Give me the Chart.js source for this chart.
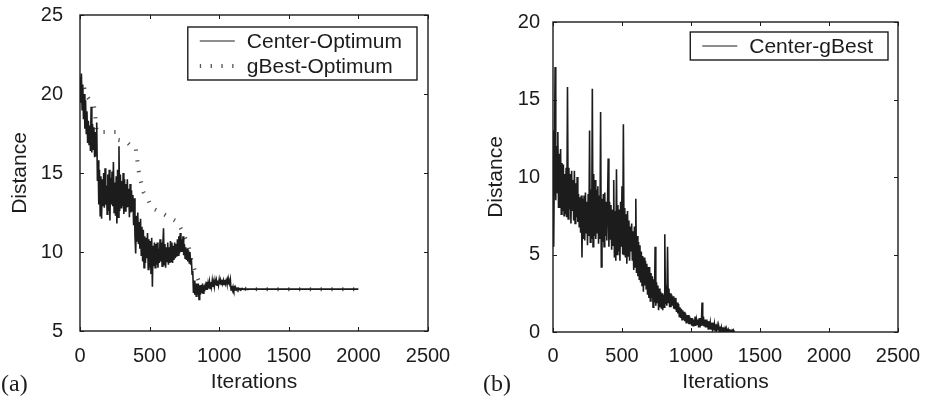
<!DOCTYPE html>
<html>
<head>
<meta charset="utf-8">
<script src="https://cdn.jsdelivr.net/npm/chart.js@4/dist/chart.umd.min.js"></script>
<style>
  html, body { margin: 0; padding: 0; background: #fff; }
  #wrap { position: relative; width: 927px; height: 397px; overflow: hidden; }
  #chart-a { position: absolute; left: 0; top: 0; }
  #chart-b { position: absolute; left: 460px; top: 0; }
</style>
</head>
<body>
<div id="wrap">
  <canvas id="chart-a" width="460" height="397"></canvas>
  <canvas id="chart-b" width="467" height="397"></canvas>
</div>
<script>
// sampled every ITER_STEP iterations
const ITER_STEP = 5;
const X_TICKS = [0, 500, 1000, 1500, 2000, 2500];

// panel (a): one row = 50 iterations
const centerOptimum = [
  19.5, 20.8, 21.3, 19.0, 20.6, 18.4, 20.0, 17.8, 19.6, 17.5,
  18.9, 16.9, 18.3, 16.8, 18.0, 16.4, 19.2, 16.3, 18.1, 16.5,
  17.9, 16.0, 17.6, 16.1, 18.2, 14.5, 15.8, 13.0, 15.2, 12.3,
  14.8, 12.1, 14.6, 12.9, 15.0, 12.8, 15.3, 13.0, 14.2, 12.4,
  14.9, 12.6, 15.2, 12.0, 14.7, 13.0, 15.1, 12.9, 15.7, 12.5,
  14.4, 12.3, 14.8, 11.8, 15.2, 12.2, 16.7, 12.6, 14.9, 12.8,
  14.5, 12.9, 15.0, 12.4, 14.6, 12.6, 14.3, 12.8, 14.6, 12.9,
  14.0, 12.2, 14.3, 12.5, 13.9, 12.6, 13.6, 11.7, 13.4, 11.0,
  9.9, 12.3, 10.7, 12.5, 10.5, 11.9, 10.2, 12.1, 9.8, 11.6,
  9.4, 11.4, 9.0, 11.0, 9.3, 10.9, 9.6, 11.2, 8.9, 10.8,
  9.0, 10.7, 8.6, 10.9, 7.8, 10.4, 9.1, 10.6, 9.0, 10.5,
  9.2, 10.6, 9.0, 10.2, 9.3, 10.8, 9.4, 10.6, 9.1, 10.4,
  11.5, 9.2, 10.5, 9.0, 10.3, 9.4, 10.6, 9.2, 10.3, 9.3,
  10.7, 9.4, 10.6, 9.3, 10.4, 9.5, 10.6, 9.6, 10.5, 9.7,
  10.8, 9.8, 11.0, 9.9, 11.2, 10.0, 10.8, 10.0, 11.0, 9.8,
  10.5, 9.6, 10.3, 9.5, 10.2, 9.4, 10.1, 9.3, 10.0, 9.2,
  9.6, 8.6, 8.8, 7.4, 8.2, 7.3, 8.0, 7.2, 8.0, 7.3,
  8.0, 7.0, 7.9, 7.3, 7.9, 7.4, 8.0, 7.4, 7.9, 7.5,
  8.0, 7.6, 8.1, 7.6, 8.0, 7.7, 8.1, 7.7, 8.1, 7.8,
  8.2, 7.8, 8.1, 7.8, 8.2, 7.9, 8.2, 7.9, 8.2, 7.9,
  8.25, 7.95, 8.2, 7.95, 8.25, 8.0, 8.2, 7.95, 8.25, 8.0,
  8.2, 8.0, 8.25, 8.0, 8.2, 8.0, 8.25, 7.6, 7.85, 7.6,
  7.8, 7.6, 7.75, 7.6, 7.72, 7.62, 7.7, 7.62, 7.7, 7.63,
  7.68, 7.63, 7.68, 7.64, 7.67, 7.64, 7.67, 7.64, 7.66, 7.65,
  7.66, 7.65, 7.66, 7.65, 7.65, 7.65, 7.65, 7.65, 7.65, 7.65
];
const centerOptimumTailIter = [2000];
const centerOptimumTailVal = [7.65];

const gBestIter = [0, 20, 40, 70, 100, 110, 120, 260, 270, 330, 380, 400, 410, 425, 455, 490, 515, 580, 640, 700, 730, 780, 800, 830, 860, 1090, 1100, 1250, 2000];
const gBestVal = [21.0, 20.8, 20.0, 19.6, 19.3, 18.6, 17.6, 17.6, 17.1, 17.0, 16.6, 16.6, 15.9, 14.9, 13.8, 13.3, 12.8, 12.5, 12.2, 11.9, 11.4, 10.4, 9.5, 8.7, 8.0, 8.0, 7.7, 7.65, 7.65];

// panel (b): one row = 50 iterations
const centerGBest = [
  13.0, 5.5, 11.0, 17.1, 8.5, 12.0, 9.0, 12.9, 8.0, 11.5,
  8.0, 11.8, 7.6, 10.9, 7.8, 10.8, 7.5, 10.2, 7.6, 10.6,
  7.4, 15.8, 7.3, 10.6, 7.9, 10.2, 7.0, 10.4, 7.8, 9.8,
  7.2, 10.4, 7.0, 9.6, 7.4, 10.0, 7.1, 8.9, 6.8, 8.7,
  6.4, 8.8, 4.8, 8.6, 6.0, 8.8, 5.9, 9.0, 6.4, 8.4,
  5.6, 8.9, 6.2, 13.0, 5.8, 9.2, 6.0, 15.7, 5.5, 10.2,
  6.2, 9.8, 6.0, 9.2, 6.4, 9.4, 5.7, 8.8, 6.0, 14.2,
  4.2, 8.6, 5.8, 8.9, 5.5, 9.0, 6.2, 8.4, 5.9, 8.2,
  11.2, 5.5, 8.4, 6.0, 8.2, 5.3, 7.9, 5.6, 9.8, 4.8,
  7.8, 4.6, 10.5, 5.0, 8.2, 5.2, 7.9, 4.6, 8.4, 5.5,
  9.4, 5.0, 13.4, 5.0, 8.0, 4.8, 7.6, 4.4, 7.8, 4.9,
  7.2, 4.6, 6.8, 5.2, 7.0, 4.6, 6.5, 4.0, 6.8, 4.2,
  8.6, 3.8, 6.2, 3.6, 5.8, 3.4, 5.6, 3.2, 5.2, 3.0,
  4.9, 2.6, 4.8, 3.0, 4.6, 2.8, 4.4, 2.4, 4.2, 2.2,
  4.2, 2.0, 3.8, 2.2, 3.6, 1.6, 3.4, 1.9, 5.5, 1.7,
  3.2, 1.9, 3.0, 1.4, 2.8, 1.6, 2.6, 1.5, 2.5, 1.4,
  2.4, 1.6, 6.3, 1.8, 3.0, 1.7, 5.5, 1.9, 2.8, 1.6,
  2.5, 1.6, 2.4, 1.7, 2.3, 1.5, 2.2, 1.5, 2.2, 1.3,
  1.9, 1.2, 1.8, 1.0, 1.6, 0.9, 1.5, 0.8, 1.4, 0.8,
  1.3, 0.7, 1.2, 0.6, 1.1, 0.6, 1.1, 0.5, 1.0, 0.5,
  0.9, 0.4, 0.9, 0.4, 0.8, 0.4, 1.0, 0.4, 0.8, 0.5,
  0.8, 0.3, 0.9, 0.3, 0.8, 0.4, 1.9, 0.4, 1.0, 0.4,
  0.8, 0.3, 0.8, 0.3, 0.7, 0.2, 0.7, 0.2, 0.6, 0.2,
  0.6, 0.2, 0.6, 0.1, 0.5, 0.1, 0.5, 0.1, 0.4, 0.1,
  0.4, 0.05, 0.35, 0.05, 0.3, 0.0, 0.3, 0.0, 0.2, 0.0,
  0.2, 0.0, 0.15, 0.0, 0.15, 0.0, 0.1, 0.0, 0.1, 0.0,
  0.1, 0.0, 0.08, 0.0, 0.0
];

const INK = '#1c1c1c';
const SANS = '"Liberation Sans", Arial, Helvetica, sans-serif';

function toPoints(values) {
  return values.map((v, i) => ({ x: i * ITER_STEP, y: v }));
}

function pairPoints(iters, values) {
  return iters.map((it, i) => ({ x: it, y: values[i] }));
}

// box, inward ticks on all four sides, boxed legend, panel tag
const matlabFrame = {
  id: 'matlabFrame',
  afterDatasetsDraw(chart, args, opts) {
    const { ctx, chartArea: a, scales: { x, y } } = chart;
    ctx.save();
    ctx.strokeStyle = INK;
    ctx.lineWidth = 1;
    ctx.beginPath();
    x.ticks.forEach((t) => {
      const px = Math.round(x.getPixelForValue(t.value)) + 0.5;
      ctx.moveTo(px, a.bottom); ctx.lineTo(px, a.bottom - 4);
      ctx.moveTo(px, a.top); ctx.lineTo(px, a.top + 4);
    });
    y.ticks.forEach((t) => {
      const py = Math.round(y.getPixelForValue(t.value)) + 0.5;
      ctx.moveTo(a.left, py); ctx.lineTo(a.left + 4, py);
      ctx.moveTo(a.right, py); ctx.lineTo(a.right - 4, py);
    });
    ctx.stroke();
    ctx.lineWidth = 1.4;
    ctx.strokeRect(a.left, a.top, a.right - a.left, a.bottom - a.top);

    // legend
    const sets = chart.data.datasets;
    ctx.font = '21px ' + SANS;
    const textW = Math.max(...sets.map((d) => ctx.measureText(d.label).width));
    const boxW = textW + 74;
    const boxH = 28 + (sets.length - 1) * 25;
    const bx = a.right - opts.legendRight - boxW;
    const by = a.top + opts.legendTop;
    ctx.fillStyle = '#fff';
    ctx.fillRect(bx, by, boxW, boxH);
    ctx.lineWidth = 1.4;
    ctx.strokeRect(bx, by, boxW, boxH);
    sets.forEach((d, i) => {
      const ry = by + 14 + i * 25;
      ctx.save();
      ctx.strokeStyle = d.borderColor;
      ctx.lineWidth = d.legendWidth || d.borderWidth;
      ctx.setLineDash(d.borderDash || []);
      ctx.beginPath();
      ctx.moveTo(bx + 12, ry); ctx.lineTo(bx + 47, ry);
      ctx.stroke();
      ctx.restore();
      ctx.fillStyle = INK;
      ctx.textBaseline = 'middle';
      ctx.textAlign = 'left';
      ctx.fillText(d.label, bx + 59, ry + 1);
    });

    // panel tag
    ctx.font = '24px "Liberation Serif", "Times New Roman", serif';
    ctx.fillStyle = INK;
    ctx.textBaseline = 'middle';
    ctx.textAlign = 'left';
    ctx.fillText(opts.tag, opts.tagX, 385);
    ctx.restore();
  }
};

function buildOptions(cfg) {
  const tickFont = { family: SANS, size: 20 };
  const titleFont = { family: SANS, size: 21 };
  return {
    responsive: false,
    animation: false,
    layout: { padding: { left: 0, top: cfg.top, right: cfg.right, bottom: 0 } },
    plugins: {
      legend: { display: false },
      tooltip: { enabled: false },
      matlabFrame: { tag: cfg.tag, tagX: cfg.tagX, legendRight: cfg.legendRight, legendTop: cfg.legendTop },
    },
    elements: { point: { radius: 0 }, line: { tension: 0 } },
    scales: {
      x: {
        type: 'linear',
        min: 0,
        max: 2500,
        afterBuildTicks: (s) => { s.ticks = X_TICKS.map((v) => ({ value: v })); },
        ticks: { padding: cfg.xPad, autoSkip: false, maxRotation: 0, color: INK, font: tickFont, callback: (v) => String(v) },
        grid: { display: false, drawTicks: false },
        border: { display: false },
        title: { display: true, text: 'Iterations', color: INK, font: titleFont, padding: { top: 0, bottom: 2 } },
        afterFit: (s) => { s.height = cfg.xHeight; s.paddingLeft = 0; s.paddingRight = 0; },
      },
      y: {
        min: cfg.yMin,
        max: cfg.yMax,
        ticks: { stepSize: 5, padding: cfg.yPad, color: INK, font: tickFont, callback: (v) => String(v) },
        grid: { display: false, drawTicks: false },
        border: { display: false },
        title: { display: true, text: 'Distance', color: INK, font: titleFont, padding: { top: cfg.yTitlePad, bottom: 0 } },
        afterFit: (s) => { s.width = cfg.yWidth; s.paddingTop = 0; s.paddingBottom = 0; },
      },
    },
  };
}

new Chart(document.getElementById('chart-a'), {
  type: 'line',
  data: {
    datasets: [
      {
        label: 'Center-Optimum',
        data: toPoints(centerOptimum).concat(pairPoints(centerOptimumTailIter, centerOptimumTailVal)),
        borderColor: INK,
        borderWidth: 1.6,
        legendWidth: 1.2,
      },
      {
        label: 'gBest-Optimum',
        data: pairPoints(gBestIter, gBestVal),
        borderColor: '#555',
        borderWidth: 4,
        borderDash: [1.3, 9.5],
      },
    ],
  },
  options: buildOptions({
    top: 15, right: 32, yWidth: 80, xHeight: 66, yPad: 17, xPad: 13, yTitlePad: 8,
    yMin: 5, yMax: 25, tag: '(a)', tagX: 1, legendRight: 11, legendTop: 12,
  }),
  plugins: [matlabFrame],
});

new Chart(document.getElementById('chart-b'), {
  type: 'line',
  data: {
    datasets: [
      {
        label: 'Center-gBest',
        data: toPoints(centerGBest),
        borderColor: INK,
        borderWidth: 1.6,
        legendWidth: 1.2,
      },
    ],
  },
  options: buildOptions({
    top: 22, right: 29, yWidth: 93, xHeight: 65, yPad: 13, xPad: 12, yTitlePad: 24,
    yMin: 0, yMax: 20, tag: '(b)', tagX: 23, legendRight: 10, legendTop: 10,
  }),
  plugins: [matlabFrame],
});
</script>
</body>
</html>
